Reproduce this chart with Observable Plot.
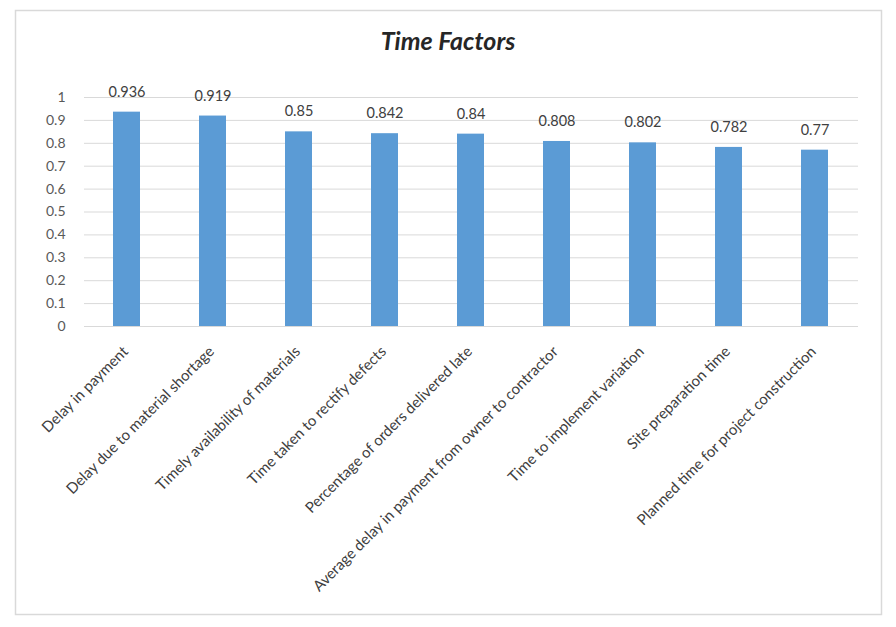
<!DOCTYPE html>
<html>
<head>
<meta charset="utf-8">
<script src="https://cdn.jsdelivr.net/npm/d3@7"></script>
<script src="https://cdn.jsdelivr.net/npm/@observablehq/plot@0.6"></script>
<style>
  html, body { margin: 0; padding: 0; background: #fff; }
  svg { display: block; }
</style>
</head>
<body>
<div id="chart"></div>
<script>
const categories = [
  "Delay in payment",
  "Delay due to material shortage",
  "Timely availability of materials",
  "Time taken to rectify defects",
  "Percentage of orders delivered late",
  "Average delay in payment from owner to contractor",
  "Time to implement variation",
  "Site preparation time",
  "Planned time for project construction"
];
const values = [0.936, 0.919, 0.85, 0.842, 0.84, 0.808, 0.802, 0.782, 0.77];
const valueLabels = ["0.936", "0.919", "0.85", "0.842", "0.84", "0.808", "0.802", "0.782", "0.77"];
const yTicks = [0, 0.1, 0.2, 0.3, 0.4, 0.5, 0.6, 0.7, 0.8, 0.9, 1];
const title = "Time Factors";

const data = categories.map((c, i) => ({cat: c, value: values[i], label: valueLabels[i]}));

const W = 896, H = 627;
const font = "Lato, 'Open Sans', sans-serif";

const chart = Plot.plot({
  width: W,
  height: H,
  marginLeft: 84,
  marginRight: 38,
  marginTop: 97,
  marginBottom: 301,
  style: {fontFamily: font, fontSize: "14px", color: "#595959", background: "#fff"},
  x: {domain: categories, paddingInner: 0.686, paddingOuter: 0.343, label: null, axis: null},
  y: {domain: [0, 1], label: null},
  marks: [
    Plot.gridY(yTicks, {stroke: "#d9d9d9", strokeOpacity: 1, strokeWidth: 1}),
    Plot.axisY(yTicks, {tickSize: 0, tickPadding: 19, tickFormat: d => String(d), fill: "#595959", fontSize: 14, label: null}),
    Plot.barY(data, {x: "cat", y: "value", fill: "#5B9BD5"}),
    Plot.text(data, {x: "cat", y: "value", text: "label", dy: -20, fill: "#404040", fontSize: 14.5}),
    Plot.text(data, {x: "cat", frameAnchor: "bottom", text: "cat", rotate: -45, textAnchor: "end", dy: 26, dx: 2, fill: "#404040", fontSize: 15}),
    Plot.ruleY([0], {stroke: "#d9d9d9"})
  ]
});

const svg = d3.select(chart);
svg.insert("rect", ":first-child")
  .attr("x", 15.5).attr("y", 10.5)
  .attr("width", 866).attr("height", 604)
  .attr("fill", "none").attr("stroke", "#d9d9d9").attr("stroke-width", 1.5);
svg.append("text")
  .attr("x", 448).attr("y", 50)
  .attr("text-anchor", "middle")
  .attr("font-family", font)
  .attr("font-size", 25)
  .attr("font-weight", "bold")
  .attr("font-style", "italic")
  .attr("fill", "#262626")
  .text(title);

document.getElementById("chart").appendChild(chart);
</script>
</body>
</html>
